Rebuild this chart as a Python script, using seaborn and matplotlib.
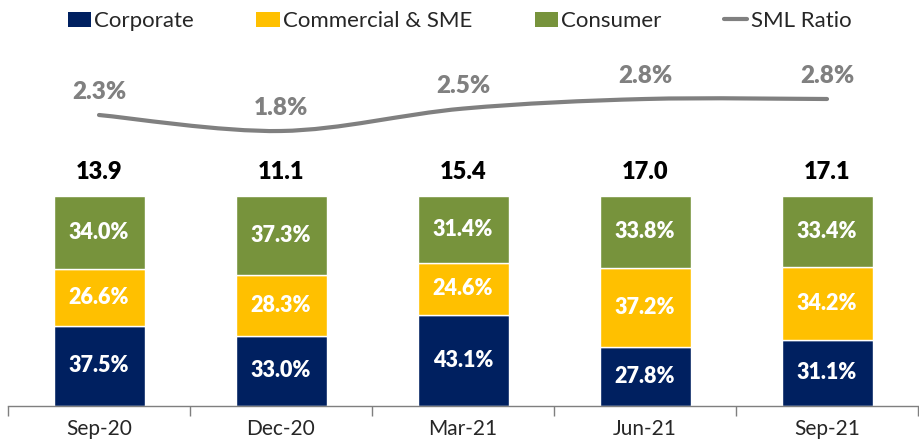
import matplotlib
matplotlib.use("Agg")
import matplotlib.pyplot as plt
import seaborn as sns
import numpy as np
from matplotlib.path import Path
from matplotlib.patches import PathPatch, Patch
from matplotlib.lines import Line2D

QUARTERS = ["Sep-20", "Dec-20", "Mar-21", "Jun-21", "Sep-21"]
CORPORATE = [37.5, 33.0, 43.1, 27.8, 31.1]
COMMERCIAL = [26.6, 28.3, 24.6, 37.2, 34.2]
CONSUMER = [34.0, 37.3, 31.4, 33.8, 33.4]
TOTALS = [13.9, 11.1, 15.4, 17.0, 17.1]
SML_RATIO = [2.3, 1.8, 2.5, 2.8, 2.8]

SEGMENTS = ["Corporate", "Commercial & SME", "Consumer"]
COLORS = ["#002060", "#FFC000", "#77933C"]
LINE_COLOR = "#808080"

sns.set_theme(style="white")
plt.rcParams["font.family"] = ["Lato", "DejaVu Sans"]

fig = plt.figure(figsize=(9.19, 4.44), dpi=100)
ax = fig.add_axes([8 / 919, 38 / 444, 910 / 919, 366 / 444])

series = np.array([CORPORATE, COMMERCIAL, CONSUMER])
shares = series / series.sum(axis=0)  # bars are drawn as 100% stacks

bottom = np.zeros(len(QUARTERS))
for name, color, share, raw in zip(SEGMENTS, COLORS, shares, series):
    sns.barplot(x=QUARTERS, y=share, bottom=bottom, color=color, width=0.5,
                saturation=1, ax=ax, zorder=2)
    for i, (s, r) in enumerate(zip(share, raw)):
        ax.text(i, bottom[i] + s / 2, f"{r:.1f}%", ha="center", va="center",
                color="white", fontsize=15.5, fontweight="heavy")
    bottom = bottom + share

for i, t in enumerate(TOTALS):
    ax.text(i, bottom[i] + 0.115, f"{t:.1f}", ha="center", va="center",
            color="black", fontsize=17, fontweight="heavy")

ax.set_xlim(-0.5, len(QUARTERS) - 0.5)
ax.set_ylim(0, 366 / 210)
ax.set_yticks([])
ax.set_xlabel("")
ax.set_ylabel("")
ax.set_xticks(np.arange(len(QUARTERS)))
ax.set_xticklabels(QUARTERS, fontsize=15)
ax.set_xticks(np.arange(-0.5, len(QUARTERS)), minor=True)
ax.tick_params(axis="x", which="major", length=0, pad=9)
ax.tick_params(axis="x", which="minor", length=7, width=1, color="#7f7f7f",
               direction="out", bottom=True)
for side in ["top", "right", "left"]:
    ax.spines[side].set_visible(False)
ax.spines["bottom"].set_color("#7f7f7f")
ax.spines["bottom"].set_linewidth(1)

# SML ratio on a twin axis, drawn as a smooth curve through the points
ax2 = ax.twinx()
ax2.set_ylim(2.3 - 291 / 32, 2.3 + 75 / 32)
ax2.axis("off")
xs = np.arange(len(QUARTERS), dtype=float)
ys = np.array(SML_RATIO)
verts = [(xs[0], ys[0])]
codes = [Path.MOVETO]
for i in range(len(xs) - 1):
    p0 = (xs[max(i - 1, 0)], ys[max(i - 1, 0)])
    p1 = (xs[i], ys[i])
    p2 = (xs[i + 1], ys[i + 1])
    p3 = (xs[min(i + 2, len(xs) - 1)], ys[min(i + 2, len(xs) - 1)])
    c1 = (p1[0] + (p2[0] - p0[0]) / 6, p1[1] + (p2[1] - p0[1]) / 6)
    c2 = (p2[0] - (p3[0] - p1[0]) / 6, p2[1] - (p3[1] - p1[1]) / 6)
    verts += [c1, c2, p2]
    codes += [Path.CURVE4] * 3
ax2.add_patch(PathPatch(Path(verts, codes), facecolor="none",
                        edgecolor=LINE_COLOR, lw=3, capstyle="round"))
for x, y in zip(xs, ys):
    ax2.text(x, y + 23 / 32, f"{y:.1f}%", ha="center", va="center",
             color=LINE_COLOR, fontsize=17.5, fontweight="heavy")

handles = [Patch(facecolor=c, edgecolor="none") for c in COLORS]
handles.append(Line2D([0], [0], color=LINE_COLOR, lw=3))
fig.legend(handles, SEGMENTS + ["SML Ratio"], loc="upper center",
           bbox_to_anchor=(0.5, 1.0), ncol=4, frameon=False, fontsize=16,
           handlelength=1.05, handleheight=0.7, handletextpad=0.15,
           columnspacing=2.8, borderaxespad=0.1)

fig.savefig("out.png", dpi=100)
plt.close(fig)
